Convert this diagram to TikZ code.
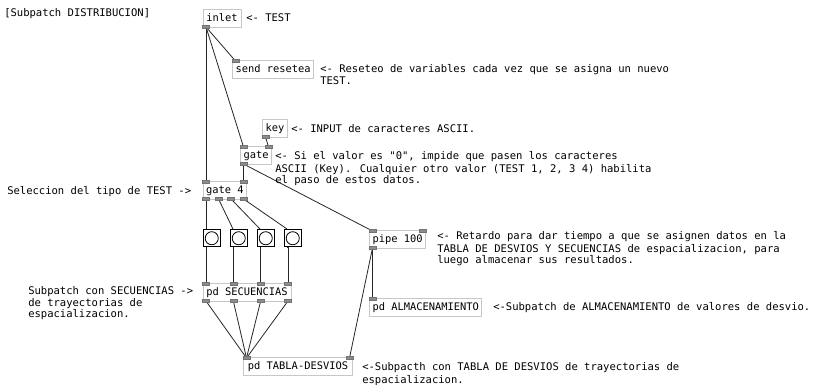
\documentclass[tikz,border=0pt]{standalone}
\usepackage{fontspec}
\newfontfamily\pdfont{DejaVu Sans Mono}
\usetikzlibrary{calc,backgrounds}
\tikzset{
  pdbox/.style={draw=black!22, fill=white, line width=0.75pt, anchor=north west,
    font=\pdfont\fontsize{7.8}{8}\selectfont, inner xsep=2.25pt, inner ysep=0pt,
    minimum height=13.5pt, text height=5.8pt, text depth=1.6pt},
  port/.style={draw=black!55, fill=black!45, line width=0.4pt, inner sep=0pt,
    minimum width=5.25pt, minimum height=2pt, rectangle},
  bang/.style={draw=black, fill=white, line width=1.1pt, anchor=north west,
    minimum size=12.75pt, inner sep=0pt, rectangle},
  wire/.style={draw=black!85, line width=0.6pt},
  cmt/.style={font=\pdfont\fontsize{7.9}{8.25}\selectfont, anchor=north west,
    inner sep=0pt, align=left, text=black}
}
\begin{document}
\begin{tikzpicture}[x=0.75pt,y=-0.75pt]
\useasboundingbox (0,0) rectangle (824,385);

% comments
\node[cmt] (c0) at (4,8) {\strut[Subpatch DISTRIBUCION]};
\node[cmt] (c1) at (246,13) {\strut<- TEST};
\node[cmt] (c2) at (320,64) {\strut<- Reseteo de variables cada vez que se asigna un nuevo\\TEST.};
\node[cmt] (c3) at (291,124) {\strut<- INPUT de caracteres ASCII.};
\node[cmt] (c4) at (275,151) {\strut<- Si el valor es "0", impide que pasen los caracteres\\ASCII (Key). Cualquier otro valor (TEST 1, 2, 3 4) habilita\\el paso de estos datos.};
\node[cmt] (c5) at (7,186) {\strut Seleccion del tipo de TEST ->};
\node[cmt] (c6) at (437,231) {\strut<- Retardo para dar tiempo a que se asignen datos en la\\TABLA DE DESVIOS Y SECUENCIAS de espacializacion, para\\luego almacenar sus resultados.};
\node[cmt] (c7) at (28,286) {\strut Subpatch con SECUENCIAS ->\\de trayectorias de\\espacializacion.};
\node[cmt] (c8) at (493,302) {\strut<-Subpatch de ALMACENAMIENTO de valores de desvio.};
\node[cmt] (c9) at (362,362.5) {\strut<-Subpacth con TABLA DE DESVIOS de trayectorias de\\espacializacion.};

% boxes
\node[pdbox, minimum width=28.5pt] (inlet) at (202.5,9) {inlet};
\node[pdbox, minimum width=60.75pt] (send) at (232,60) {send resetea};
\node[pdbox, minimum width=18pt] (key) at (262,119) {key};
\node[pdbox, minimum width=21pt] (gate) at (240,146) {gate};
\node[pdbox, minimum width=31.5pt] (gatefour) at (202.5,181) {gate 4};
\node[pdbox, minimum width=39.75pt] (pipe) at (369,230) {pipe 100};
\node[pdbox, minimum width=66pt] (secu) at (202.5,283) {pd SECUENCIAS};
\node[pdbox, minimum width=81.75pt] (alma) at (369,298) {pd ALMACENAMIENTO};
\node[pdbox, minimum width=81.75pt] (tabla) at (243,357) {pd TABLA-DESVIOS};

% bangs
\foreach \i/\x in {1/202.5,2/229.5,3/256.5,4/283.5}{
  \node[bang] (b\i) at (\x,229) {};
  \draw[black, line width=0.6pt] (b\i.center) circle[radius=4.9pt];
}

% ports
\node[port] (inletO) at ($(inlet.south west)+(3.5,-1)$) {};
\node[port] (sendI) at ($(send.north west)+(3.5,1)$) {};
\node[port] (keyO) at ($(key.south west)+(3.5,-1)$) {};
\node[port] (gateIL) at ($(gate.north west)+(3.5,1)$) {};
\node[port] (gateIR) at ($(gate.north east)+(-3.5,1)$) {};
\node[port] (gateO) at ($(gate.south west)+(3.5,-1)$) {};
\node[port] (gfIL) at ($(gatefour.north west)+(3.5,1)$) {};
\node[port] (gfIR) at ($(gatefour.north east)+(-3.5,1)$) {};
\node[port] (gfO1) at ($(gatefour.south west)+(3.5,-1)$) {};
\node[port] (gfO4) at ($(gatefour.south east)+(-3.5,-1)$) {};
\node[port] (gfO2) at ($(gfO1)!1/3!(gfO4)$) {};
\node[port] (gfO3) at ($(gfO1)!2/3!(gfO4)$) {};
\node[port] (pipeIL) at ($(pipe.north west)+(3.5,1)$) {};
\node[port] (pipeIR) at ($(pipe.north east)+(-3.5,1)$) {};
\node[port] (pipeO) at ($(pipe.south west)+(3.5,-1)$) {};
\node[port] (secI1) at ($(secu.north west)+(3.5,1)$) {};
\node[port] (secI4) at ($(secu.north east)+(-3.5,1)$) {};
\node[port] (secI2) at ($(secI1)!1/3!(secI4)$) {};
\node[port] (secI3) at ($(secI1)!2/3!(secI4)$) {};
\node[port] (secO1) at ($(secu.south west)+(3.5,-1)$) {};
\node[port] (secO4) at ($(secu.south east)+(-3.5,-1)$) {};
\node[port] (secO2) at ($(secO1)!1/3!(secO4)$) {};
\node[port] (secO3) at ($(secO1)!2/3!(secO4)$) {};
\node[port] (almaI) at ($(alma.north west)+(3.5,1)$) {};
\node[port] (tabIL) at ($(tabla.north west)+(3.5,1)$) {};
\node[port] (tabIR) at ($(tabla.north east)+(-3.5,1)$) {};
\foreach \i in {1,...,4}{
  \coordinate (bI\i) at ($(b\i.north west)+(3.5,0)$);
  \coordinate (bO\i) at ($(b\i.south west)+(3.5,0)$);
}

% wires
\begin{scope}[on background layer]
\draw[wire] (inletO.center) -- (sendI.center);
\draw[wire] (inletO.center) -- (gateIL.center);
\draw[wire] (inletO.center) -- (gfIL.center);
\draw[wire] (keyO.center) -- (gateIR.center);
\draw[wire] (gateO.center) -- (gfIR.center);
\draw[wire] (gateO.center) -- (pipeIL.center);
\foreach \i in {1,...,4}{
  \draw[wire] (gfO\i.center) -- (bI\i);
  \draw[wire] (bO\i) -- (secI\i |- bO\i) -- (secI\i.center);
  \draw[wire] (secO\i.center) -- (tabIL.center);
}
\draw[wire] (pipeO.center) -- (almaI.center);
\draw[wire] (pipeO.center) -- (tabIR.center);
\end{scope}
\end{tikzpicture}
\end{document}
